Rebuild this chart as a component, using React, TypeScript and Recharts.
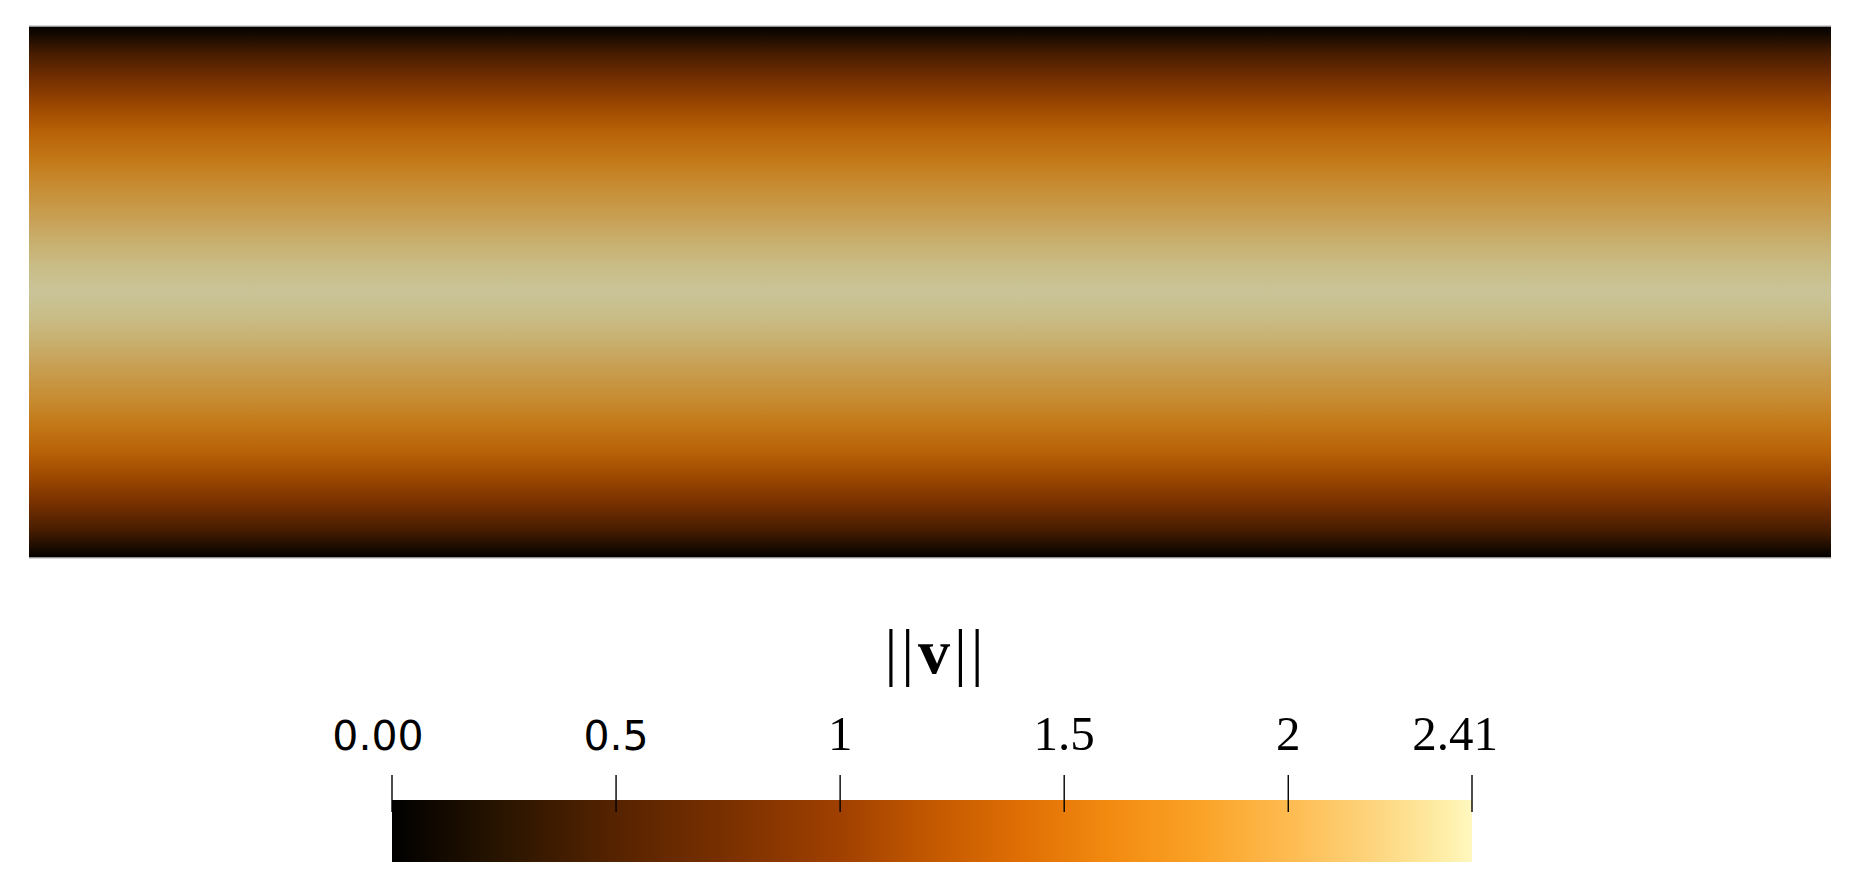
import React from 'react';
import { ComposedChart, XAxis, YAxis, ReferenceArea, ReferenceLine } from 'recharts';

// Position across the channel height (fraction, bottom = 0, top = 1)
const channelPositions = [0, 0.05, 0.1, 0.15, 0.2, 0.25, 0.3, 0.35, 0.4, 0.45, 0.5, 0.55, 0.6, 0.65, 0.7, 0.75, 0.8, 0.85, 0.9, 0.95, 1];
// Velocity magnitude ||v|| read across the channel height
const speedMagnitudes = [0, 0.5, 0.92, 1.22, 1.5, 1.72, 1.92, 2.08, 2.23, 2.35, 2.41, 2.35, 2.23, 2.08, 1.92, 1.72, 1.5, 1.22, 0.92, 0.5, 0];
const channelLength = [0, 1];

// Colormap (value -> colour)
const colormapValues = [0, 0.25, 0.5, 0.75, 1.0, 1.2, 1.4, 1.6, 1.8, 2.0, 2.2, 2.35, 2.41];
const colormapColors = ['#000000', '#2a1500', '#562300', '#7a3000', '#a04000', '#c25800', '#df6e04', '#f28a10', '#faa226', '#febb50', '#fdd680', '#feeea8', '#fff8c0'];

// Colour bar
const speedRange = [0, 2.41];
const colorbarTicks = [0, 0.5, 1, 1.5, 2, 2.41];
const colorbarTickLabels = ['0.00', '0.5', '1', '1.5', '2', '2.41'];

const SHADE = 0.79;

function hexToRgb(h: string): number[] {
  const n = parseInt(h.slice(1), 16);
  return [(n >> 16) & 255, (n >> 8) & 255, n & 255];
}
function rgbToHex(c: number[]): string {
  return '#' + c.map((v) => Math.max(0, Math.min(255, Math.round(v))).toString(16).padStart(2, '0')).join('');
}
function colormap(v: number): number[] {
  if (v <= colormapValues[0]) return hexToRgb(colormapColors[0]);
  for (let i = 1; i < colormapValues.length; i++) {
    if (v <= colormapValues[i]) {
      const t = (v - colormapValues[i - 1]) / (colormapValues[i] - colormapValues[i - 1]);
      const a = hexToRgb(colormapColors[i - 1]);
      const b = hexToRgb(colormapColors[i]);
      return a.map((av, k) => av + (b[k] - av) * t);
    }
  }
  return hexToRgb(colormapColors[colormapColors.length - 1]);
}

const fieldStops = channelPositions
  .map((p, i) => ({ offset: 1 - p, color: rgbToHex(colormap(speedMagnitudes[i]).map((c) => c * SHADE)) }))
  .sort((a, b) => a.offset - b.offset);

const colorbarStops = colormapValues.map((v, i) => ({
  offset: (v - speedRange[0]) / (speedRange[1] - speedRange[0]),
  color: colormapColors[i],
}));

const ColorbarTick = (props: any) => {
  const { x, y, payload } = props;
  const i = colorbarTicks.indexOf(payload.value);
  const label = colorbarTickLabels[i];
  const sans = i < 2;
  const dx = i === 0 ? -14 : i === colorbarTicks.length - 1 ? -17 : 0;
  return (
    <g>
      <line x1={x} x2={x} y1={y - 25} y2={y + 12} stroke="#000" strokeWidth={1.4} />
      <text
        x={x + dx}
        y={y - 50}
        textAnchor="middle"
        fontFamily={sans ? 'DejaVu Sans' : 'Liberation Serif'}
        fontSize={sans ? 41 : 49}
        fill="#000"
      >
        {label}
      </text>
    </g>
  );
};

const TitleLabel = (props: any) => {
  const { viewBox } = props;
  if (!viewBox) return null;
  const cx = viewBox.x + viewBox.width / 2 + 4;
  const baseline = viewBox.y - 127;
  return (
    <text x={cx} y={baseline} textAnchor="middle" fontFamily="Liberation Serif" fontSize={64} letterSpacing={4} fill="#000">
      ||<tspan fontWeight="bold">v</tspan>||
    </text>
  );
};

export default function App() {
  return (
    <div style={{ position: 'absolute', left: 0, top: 0, width: 1860, height: 896, background: '#fff', overflow: 'hidden' }}>
      <div style={{ position: 'absolute', left: 0, top: 0 }}>
        <ComposedChart width={1860} height={600} margin={{ top: 26, right: 29, bottom: 42, left: 29 }} data={[]}>
          <defs>
            <linearGradient id="fieldGrad" x1="0" y1="0" x2="0" y2="1">
              {fieldStops.map((s, i) => (
                <stop key={i} offset={s.offset} stopColor={s.color} />
              ))}
            </linearGradient>
          </defs>
          <XAxis type="number" dataKey="x" domain={channelLength} hide allowDataOverflow />
          <YAxis type="number" dataKey="y" domain={[0, 1]} hide allowDataOverflow />
          <ReferenceArea
            x1={channelLength[0]}
            x2={channelLength[1]}
            y1={channelPositions[0]}
            y2={channelPositions[channelPositions.length - 1]}
            fill="url(#fieldGrad)"
            fillOpacity={1}
            stroke="none"
            isFront={false}
          />
          <ReferenceLine y={1} stroke="#c4c4c4" strokeWidth={1.5} />
          <ReferenceLine y={0} stroke="#c4c4c4" strokeWidth={1.5} />
        </ComposedChart>
      </div>
      <div style={{ position: 'absolute', left: 0, top: 600 }}>
        <ComposedChart width={1860} height={296} margin={{ top: 170, right: 388, bottom: 34, left: 392 }} data={[]}>
          <defs>
            <linearGradient id="cbarGrad" x1="0" y1="0" x2="1" y2="0">
              {colorbarStops.map((s, i) => (
                <stop key={i} offset={s.offset} stopColor={s.color} />
              ))}
            </linearGradient>
          </defs>
          <ReferenceArea
            x1={speedRange[0]}
            x2={speedRange[1]}
            y1={0}
            y2={1}
            fill="url(#cbarGrad)"
            fillOpacity={1}
            stroke="none"
            label={<TitleLabel />}
          />
          <XAxis
            type="number"
            dataKey="v"
            orientation="top"
            height={30}
            domain={speedRange}
            ticks={colorbarTicks}
            interval={0}
            allowDataOverflow
            axisLine={false}
            tickLine={false}
            tickSize={0}
            tickMargin={0}
            tick={<ColorbarTick />}
          />
          <YAxis type="number" dataKey="w" domain={[0, 1]} hide allowDataOverflow />
        </ComposedChart>
      </div>
    </div>
  );
}
